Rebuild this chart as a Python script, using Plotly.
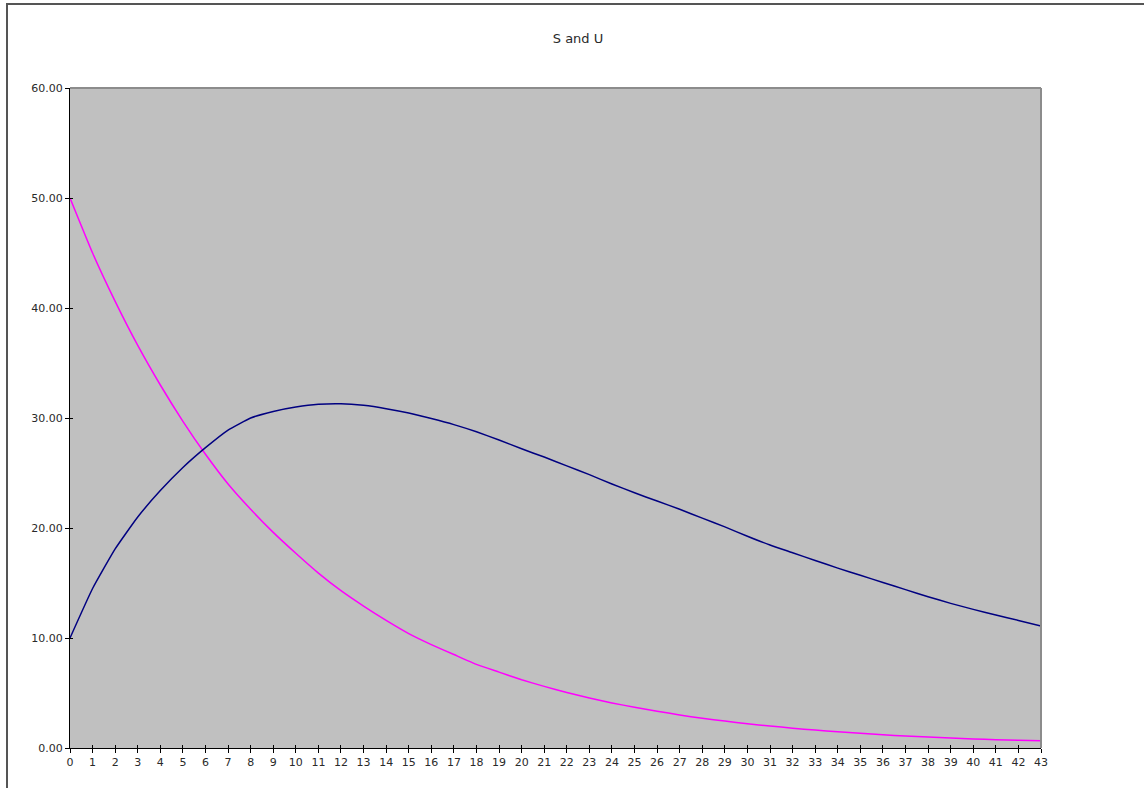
import plotly.graph_objects as go

categories = list(range(0, 44))
tick_labels = [str(c) for c in categories]

U_values = [10.0, 14.5, 18.1, 21.0, 23.4, 25.5, 27.3, 28.9, 30.0, 30.6,
            31.0, 31.25, 31.3, 31.15, 30.85, 30.45, 29.95, 29.4, 28.75, 28.0,
            27.2, 26.45, 25.65, 24.85, 24.0, 23.2, 22.45, 21.7, 20.9, 20.1,
            19.25, 18.45, 17.75, 17.05, 16.35, 15.7, 15.05, 14.4, 13.75, 13.15,
            12.6, 12.1, 11.6, 11.1]

S_values = [50.0, 45.0, 40.6, 36.6, 33.0, 29.7, 26.7, 24.0, 21.7, 19.6,
            17.7, 15.9, 14.3, 12.9, 11.6, 10.4, 9.4, 8.5, 7.6, 6.9,
            6.2, 5.6, 5.05, 4.55, 4.1, 3.7, 3.35, 3.0, 2.7, 2.45,
            2.2, 2.0, 1.8, 1.63, 1.47, 1.33, 1.2, 1.09, 0.99, 0.9,
            0.82, 0.75, 0.7, 0.66]

y_ticks = [0, 10, 20, 30, 40, 50, 60]

W, H = 1144, 788
L, R, T, B = 70, 103, 88, 40
pw = W - L - R
ph = H - T - B

fig = go.Figure()
fig.add_trace(go.Scatter(x=categories, y=S_values, mode="lines", name="S",
                         line=dict(color="#FF00FF", width=1.5, shape="spline", smoothing=0.4)))
fig.add_trace(go.Scatter(x=categories, y=U_values, mode="lines", name="U",
                         line=dict(color="#000080", width=1.5, shape="spline", smoothing=0.4)))
# dummy trace for overlay axes (inside half of crossing ticks)
fig.add_trace(go.Scatter(x=[None], y=[None], xaxis="x2", yaxis="y2",
                         showlegend=False, hoverinfo="skip"))

font_family = "DejaVu Sans, Verdana, sans-serif"
text_color = "#2a2a2a"

fig.update_layout(
    width=W, height=H,
    margin=dict(l=L, r=R, t=T, b=B),
    paper_bgcolor="white",
    plot_bgcolor="#C0C0C0",
    showlegend=False,
    title=dict(text="S and U", x=(578) / W, xref="container", xanchor="center",
               y=1 - 38 / H, yref="container", yanchor="middle",
               font=dict(family=font_family, size=13, color=text_color)),
    xaxis=dict(range=[0, 43], tickmode="array", tickvals=categories, ticktext=tick_labels,
               showgrid=False, zeroline=False, showline=True, linecolor="black", linewidth=1,
               ticks="outside", ticklen=4, tickcolor="black", tickwidth=1,
               tickfont=dict(family=font_family, size=11, color=text_color)),
    yaxis=dict(range=[0, 60], tickmode="array", tickvals=y_ticks, tickformat=".2f",
               showgrid=False, zeroline=False, showline=True, linecolor="black", linewidth=1,
               ticks="outside", ticklen=4, tickcolor="black", tickwidth=1,
               tickfont=dict(family=font_family, size=11, color=text_color)),
    xaxis2=dict(range=[0, 43], overlaying="x", anchor="y2", side="bottom",
                tickmode="array", tickvals=categories, showticklabels=False,
                showgrid=False, zeroline=False, showline=False,
                ticks="inside", ticklen=3, tickcolor="black", tickwidth=1),
    yaxis2=dict(range=[0, 60], overlaying="y", anchor="x2", side="left",
                tickmode="array", tickvals=y_ticks, showticklabels=False,
                showgrid=False, zeroline=False, showline=False,
                ticks="inside", ticklen=3, tickcolor="black", tickwidth=1),
    shapes=[
        # plot-area border top and right (grey)
        dict(type="line", xref="paper", yref="paper", x0=0, x1=1, y0=1, y1=1,
             line=dict(color="#8C8C8C", width=2)),
        dict(type="line", xref="paper", yref="paper", x0=1, x1=1, y0=0, y1=1,
             line=dict(color="#8C8C8C", width=2)),
        # outer chart frame
        dict(type="rect", xref="paper", yref="paper",
             x0=(7 - L) / pw, x1=(W + 20 - L) / pw,
             y0=-(B + 20) / ph, y1=(H - B - 4) / ph,
             line=dict(color="#555555", width=2), fillcolor="rgba(0,0,0,0)", layer="above"),
    ],
)

fig.write_html("out.html",
               config={"displayModeBar": False},
               post_script="document.body.style.margin='0';document.body.style.overflow='hidden';")
